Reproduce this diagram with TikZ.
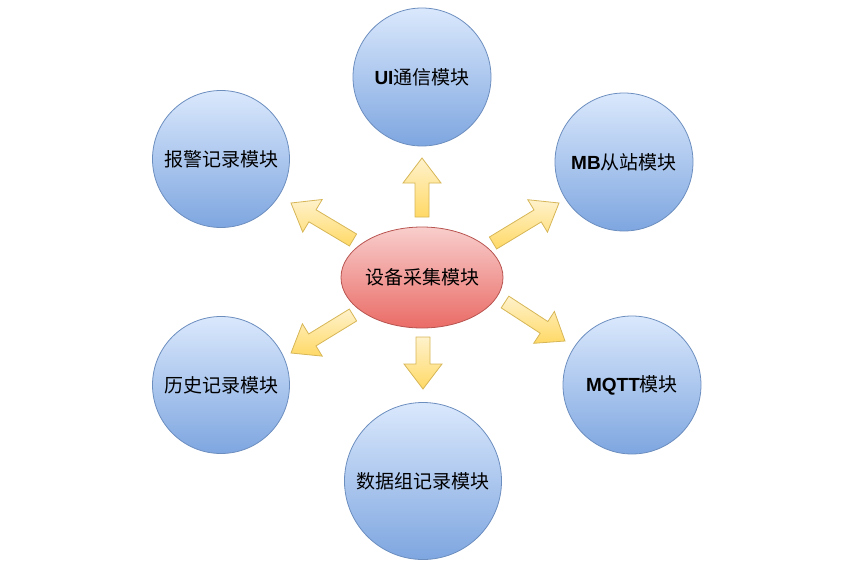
\documentclass[tikz,border=0pt]{standalone}
\usepackage{fontspec}
\setmainfont{Liberation Sans}
\newfontfamily\cjk{Noto Sans CJK SC}
\usetikzlibrary{shapes.geometric,calc}
\definecolor{bluetop}{HTML}{DAE8FC}
\definecolor{bluebot}{HTML}{7EA6E0}
\definecolor{blueline}{HTML}{6C8EBF}
\definecolor{redtop}{HTML}{F8CECC}
\definecolor{redbot}{HTML}{EA6B66}
\definecolor{redline}{HTML}{B85450}
\definecolor{yeltop}{HTML}{FFF2CC}
\definecolor{yelbot}{HTML}{FFD966}
\definecolor{yelline}{HTML}{D6B656}
\newcommand\blockarrow[2]{%
  \draw[blockarr] ($(#1)!7pt!90:(#2)$) -- ($($(#2)!25pt!(#1)$)!7pt!-90:(#1)$)
    -- ($($(#2)!25pt!(#1)$)!19pt!-90:(#1)$) -- (#2)
    -- ($($(#2)!25pt!(#1)$)!19pt!90:(#1)$) -- ($($(#2)!25pt!(#1)$)!7pt!90:(#1)$)
    -- ($(#1)!7pt!-90:(#2)$) -- cycle;}
\tikzset{
  module/.style={circle, draw=blueline, line width=0.8pt, top color=bluetop, bottom color=bluebot,
    inner sep=0pt, font=\fontsize{19}{22}\selectfont\cjk},
  core/.style={ellipse, draw=redline, line width=0.8pt, top color=redtop, bottom color=redbot,
    inner sep=0pt, minimum width=162pt, minimum height=101pt, font=\fontsize{19}{22}\selectfont\cjk},
  blockarr/.style={draw=yelline, line width=0.8pt, top color=yeltop, bottom color=yelbot, line join=miter}
}
\begin{document}
\begin{tikzpicture}[x=1pt,y=-1pt]
\useasboundingbox (0,0) rectangle (867,576);
\node[core] (core) at (422,277.5) {设备采集模块};
\node[module, minimum size=138pt] (ui) at (422,77) {{\fontspec{Liberation Sans}\bfseries UI}通信模块};
\node[module, minimum size=137pt] (alarm) at (221,159) {报警记录模块};
\node[module, minimum size=138pt] (mb) at (624,162) {{\fontspec{Liberation Sans}\bfseries MB}从站模块};
\node[module, minimum size=137pt] (hist) at (221,385) {历史记录模块};
\node[module, minimum size=138pt] (mqtt) at (632,385) {{\fontspec{Liberation Sans}\bfseries MQTT}模块};
\node[module, minimum size=157pt] (data) at (423,481) {数据组记录模块};
\coordinate (tU) at (422,217); \coordinate (hU) at (422,158);
\coordinate (tD) at (423,337); \coordinate (hD) at (423,389);
\coordinate (tUR) at (493,243); \coordinate (hUR) at (559,203);
\coordinate (tLR) at (505,302); \coordinate (hLR) at (565,341);
\coordinate (tUL) at (353,240); \coordinate (hUL) at (291,203);
\coordinate (tLL) at (353,315); \coordinate (hLL) at (291,353);
\blockarrow{tU}{hU}
\blockarrow{tD}{hD}
\blockarrow{tUR}{hUR}
\blockarrow{tLR}{hLR}
\blockarrow{tUL}{hUL}
\blockarrow{tLL}{hLL}
\end{tikzpicture}
\end{document}
